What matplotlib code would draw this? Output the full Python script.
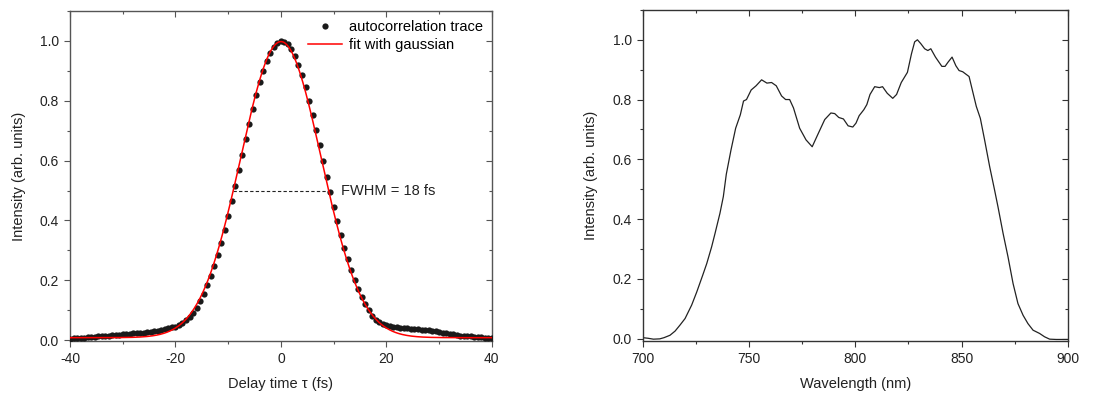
import numpy as np
import matplotlib
matplotlib.use("Agg")
import matplotlib.pyplot as plt
from matplotlib.ticker import MultipleLocator

plt.rcParams['font.family'] = ['Liberation Sans', 'DejaVu Sans']
plt.rcParams['font.size'] = 10
plt.rcParams['axes.unicode_minus'] = False

# autocorrelation trace, sampled every 2/3 fs from -40 to 40 fs
delay_start, delay_stop = -40.0, 40.0
ac_trace = [
    0.005, 0.006, 0.006, 0.007, 0.008, 0.009, 0.010, 0.011, 0.012, 0.013,
    0.014, 0.015, 0.016, 0.017, 0.018, 0.019, 0.020, 0.021, 0.022, 0.023,
    0.024, 0.025, 0.027, 0.028, 0.030, 0.031, 0.033, 0.036, 0.039, 0.042,
    0.045, 0.050, 0.057, 0.066, 0.077, 0.090, 0.106, 0.131, 0.155, 0.183,
    0.214, 0.248, 0.285, 0.326, 0.369, 0.416, 0.465, 0.515, 0.567, 0.620,
    0.672, 0.723, 0.773, 0.819, 0.862, 0.900, 0.933, 0.960, 0.980, 0.994,
    1.000, 0.998, 0.989, 0.973, 0.950, 0.921, 0.885, 0.845, 0.801, 0.753,
    0.703, 0.652, 0.599, 0.546, 0.495, 0.445, 0.397, 0.352, 0.309, 0.270,
    0.234, 0.201, 0.171, 0.145, 0.122, 0.102, 0.082, 0.068, 0.060, 0.054,
    0.050, 0.047, 0.045, 0.043, 0.041, 0.040, 0.039, 0.038, 0.037, 0.036,
    0.035, 0.034, 0.033, 0.031, 0.029, 0.027, 0.025, 0.023, 0.021, 0.019,
    0.017, 0.015, 0.014, 0.013, 0.012, 0.011, 0.010, 0.009, 0.008, 0.007,
    0.007,
]

# gaussian fit parameters
fit_offset = 0.008
fit_amp = 0.99
fit_center = 0.0
fit_fwhm = 18.0

# spectrum
wavelength = [
    700.0, 702.5, 705.0, 708.0, 710.0, 712.8, 715.2, 717.5, 719.9, 723.0,
    725.4, 728.2, 730.1, 732.4, 734.0, 736.3, 737.9, 739.3, 741.5, 743.7,
    745.9, 747.4, 748.8, 751.0, 753.3, 755.9, 758.4, 760.6, 762.8, 765.3,
    767.2, 769.1, 770.9, 773.8, 776.8, 779.7, 782.6, 785.6, 788.5, 790.3,
    792.2, 794.4, 796.6, 798.8, 800.3, 801.8, 804.0, 805.4, 806.9, 809.1,
    811.3, 812.8, 815.0, 817.6, 819.4, 821.6, 824.5, 826.4, 827.9, 829.2,
    830.8, 832.6, 834.1, 835.5, 837.7, 840.7, 842.2, 843.6, 845.5, 847.3,
    848.8, 850.5, 853.5, 855.4, 856.9, 858.8, 860.8, 863.2, 865.5, 867.1,
    869.5, 871.8, 874.2, 876.5, 878.9, 881.2, 883.6, 886.7, 889.0, 891.4,
    894.5, 900.0,
]
spectrum = [
    0.003, 0.001, -0.002, -0.001, 0.003, 0.011, 0.025, 0.045, 0.067, 0.112,
    0.156, 0.212, 0.251, 0.307, 0.352, 0.419, 0.475, 0.550, 0.631, 0.704,
    0.749, 0.795, 0.800, 0.832, 0.846, 0.866, 0.855, 0.857, 0.846, 0.812,
    0.800, 0.800, 0.772, 0.704, 0.665, 0.642, 0.687, 0.733, 0.755, 0.753,
    0.740, 0.735, 0.712, 0.708, 0.721, 0.746, 0.766, 0.783, 0.817, 0.843,
    0.840, 0.843, 0.821, 0.804, 0.817, 0.857, 0.891, 0.953, 0.993, 1.000,
    0.987, 0.970, 0.964, 0.970, 0.942, 0.911, 0.911, 0.925, 0.942, 0.913,
    0.897, 0.893, 0.877, 0.821, 0.777, 0.737, 0.665, 0.575, 0.497, 0.441,
    0.352, 0.274, 0.184, 0.117, 0.078, 0.050, 0.028, 0.017, 0.006, -0.002,
    -0.003, -0.003,
]

delay = np.linspace(delay_start, delay_stop, len(ac_trace))
tau = np.linspace(delay_start, delay_stop, 800)
sigma = fit_fwhm / (2 * np.sqrt(2 * np.log(2)))
fit = fit_offset + fit_amp * np.exp(-(tau - fit_center) ** 2 / (2 * sigma ** 2))

fig = plt.figure(figsize=(11.13, 3.96), dpi=100)
ax1 = fig.add_axes([0.0629, 0.139, 0.379, 0.833])
ax2 = fig.add_axes([0.5775, 0.139, 0.382, 0.836])


def style_axes(ax, spine_color):
    for s in ax.spines.values():
        s.set_color(spine_color)
        s.set_linewidth(1.0)
    ax.tick_params(which='both', direction='out', colors=spine_color,
                   labelcolor='#222222', labelsize=10)
    ax.tick_params(which='major', length=4.5, width=0.8)
    ax.tick_params(which='minor', length=2.5, width=0.8)
    ax.yaxis.set_major_locator(MultipleLocator(0.2))
    ax.yaxis.set_minor_locator(MultipleLocator(0.1))
    # mirrored ticks on top and right, pointing inwards
    top = ax.secondary_xaxis('top')
    right = ax.secondary_yaxis('right')
    for sec in (top, right):
        sec.tick_params(which='both', direction='in', colors=spine_color,
                        labelleft=False, labelright=False, labeltop=False,
                        labelbottom=False)
        sec.tick_params(which='major', length=4.5, width=0.8)
        sec.tick_params(which='minor', length=2.5, width=0.8)
        sec.spines[:].set_visible(False)
    top.xaxis.set_major_locator(ax.xaxis.get_major_locator())
    top.xaxis.set_minor_locator(ax.xaxis.get_minor_locator())
    right.yaxis.set_major_locator(MultipleLocator(0.2))
    right.yaxis.set_minor_locator(MultipleLocator(0.1))


# left: autocorrelation
ax1.plot(delay, ac_trace, 'o', color='#1a1a1a', ms=4.5, mew=0,
         label='autocorrelation trace', zorder=3)
ax1.plot(tau, fit, '-', color='#ff0000', lw=1.1, label='fit with gaussian',
         zorder=4)
ax1.plot([fit_center - fit_fwhm / 2, fit_center + fit_fwhm / 2], [0.5, 0.5],
         '--', color='#222222', lw=0.8, dashes=(3, 2))
ax1.text(11.3, 0.5, f'FWHM = {fit_fwhm:.0f} fs', va='center', ha='left',
         fontsize=10.5, color='#222222')
ax1.set_xlim(-40, 40)
ax1.set_ylim(-0.003, 1.1)
ax1.xaxis.set_major_locator(MultipleLocator(20))
ax1.xaxis.set_minor_locator(MultipleLocator(10))
ax1.set_xlabel('Delay time \u03c4 (fs)', fontsize=10.5, color='#222222', labelpad=8)
ax1.set_ylabel('Intensity (arb. units)', fontsize=10.5, color='#222222', labelpad=10)
ax1.legend(loc='upper right', frameon=False, fontsize=10.5, handlelength=2.3,
           handletextpad=0.5, labelspacing=0.3, borderaxespad=0.2,
           markerscale=1.0)
style_axes(ax1, '#555555')

# right: spectrum
ax2.plot(wavelength, spectrum, '-', color='#222222', lw=0.9)
ax2.set_xlim(700, 900)
ax2.set_ylim(-0.008, 1.1)
ax2.xaxis.set_major_locator(MultipleLocator(50))
ax2.xaxis.set_minor_locator(MultipleLocator(25))
ax2.set_xlabel('Wavelength (nm)', fontsize=10.5, color='#222222', labelpad=8)
ax2.set_ylabel('Intensity (arb. units)', fontsize=10.5, color='#222222', labelpad=10)
style_axes(ax2, '#333333')

fig.savefig('out.png', dpi=100)
